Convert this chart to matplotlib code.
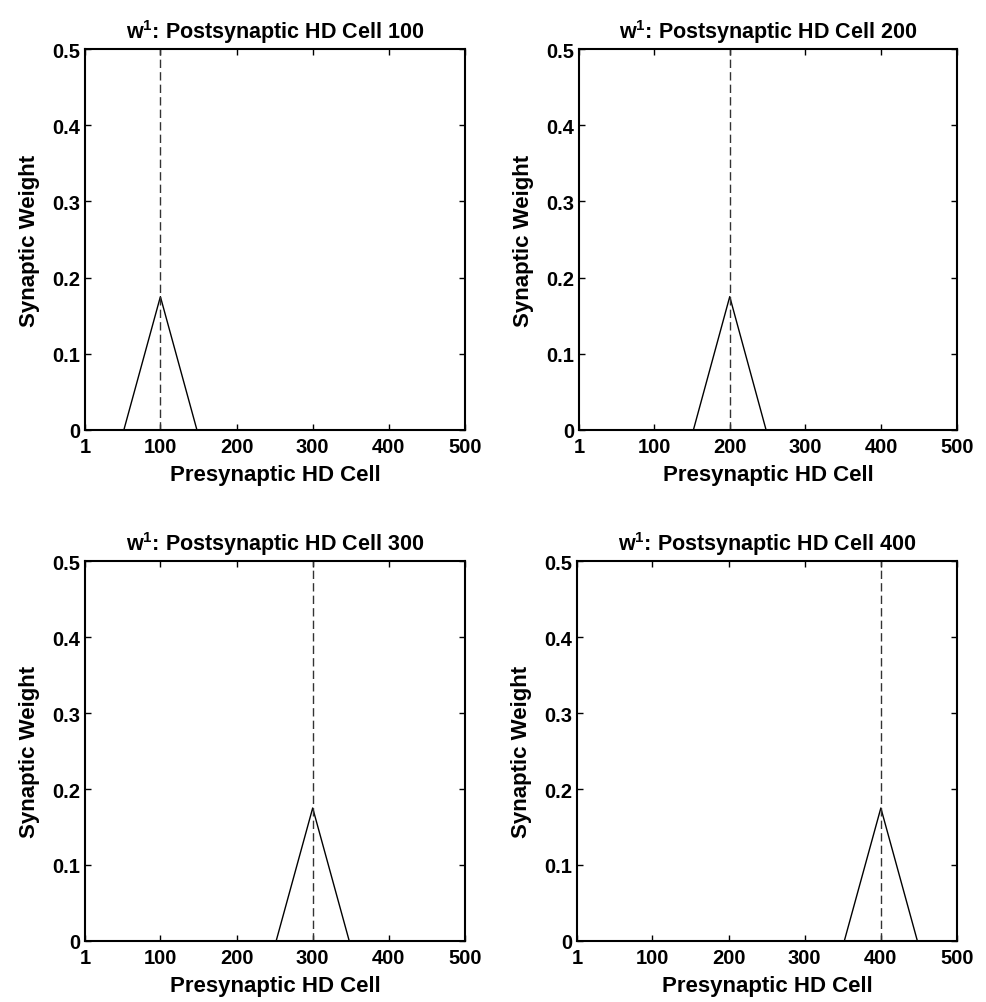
import matplotlib.pyplot as plt

plt.rcParams['font.family'] = ['Liberation Sans', 'DejaVu Sans']
plt.rcParams['font.weight'] = 'bold'
plt.rcParams['mathtext.fontset'] = 'custom'
plt.rcParams['mathtext.rm'] = 'Liberation Sans:bold'
plt.rcParams['mathtext.bf'] = 'Liberation Sans:bold'

# postsynaptic cells shown in the four panels
post_cells = [100, 200, 300, 400]

# weight profiles (presynaptic cell, weight)
pre_100 = [1, 52, 100, 148, 500]
w_100 = [0, 0, 0.175, 0, 0]
pre_200 = [1, 152, 200, 248, 500]
w_200 = [0, 0, 0.175, 0, 0]
pre_300 = [1, 252, 300, 348, 500]
w_300 = [0, 0, 0.175, 0, 0]
pre_400 = [1, 352, 400, 448, 500]
w_400 = [0, 0, 0.175, 0, 0]

profiles = [(pre_100, w_100), (pre_200, w_200), (pre_300, w_300), (pre_400, w_400)]

xticks = [1, 100, 200, 300, 400, 500]
yticks = [0, 0.1, 0.2, 0.3, 0.4, 0.5]

W, H = 987, 1003
fig = plt.figure(figsize=(W / 100, H / 100), dpi=100)

# axes boxes in pixels: left, top, right, bottom
boxes = [(85, 50, 465, 431), (579, 50, 957, 431),
         (85, 562, 465, 942), (577, 562, 957, 942)]

for (l, t, r, b), cell, (xs, ys) in zip(boxes, post_cells, profiles):
    ax = fig.add_axes([l / W, 1 - b / H, (r - l) / W, (b - t) / H])
    ax.plot(xs, ys, color='black', lw=1.0)
    ax.plot([cell, cell], [0, 0.5], color='#333333', lw=1.0, dashes=(6, 3))
    ax.set_xlim(1, 500)
    ax.set_ylim(0, 0.5)
    ax.set_xticks(xticks)
    ax.set_xticklabels([str(v) for v in xticks])
    ax.set_yticks(yticks)
    ax.set_yticklabels(['0', '0.1', '0.2', '0.3', '0.4', '0.5'])
    ax.tick_params(direction='in', top=True, right=True, length=4, width=1,
                   labelsize=14.5)
    ax.tick_params(axis='x', pad=5)
    ax.tick_params(axis='y', pad=3.5)
    for s in ax.spines.values():
        s.set_linewidth(1.5)
    ax.set_title(r'w$^{\mathbf{1}}$: Postsynaptic HD Cell ' + str(cell),
                 fontsize=15.5, fontweight='bold', pad=8)
    ax.set_xlabel('Presynaptic HD Cell', fontsize=16, fontweight='bold', labelpad=6)
    ax.set_ylabel('Synaptic Weight', fontsize=16, fontweight='bold', labelpad=9)

fig.savefig('out.png', dpi=100)
